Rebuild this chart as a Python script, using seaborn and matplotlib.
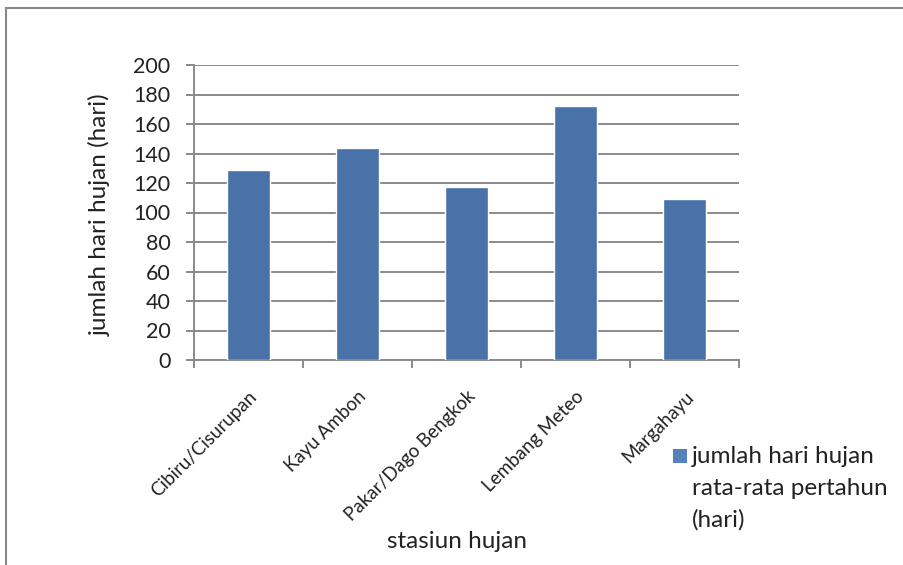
import matplotlib
matplotlib.use("Agg")
import matplotlib.pyplot as plt
from matplotlib.patches import Rectangle
from matplotlib.lines import Line2D
import seaborn as sns
import pandas as pd

# Rainfall stations and mean number of rainy days per year
stations = ["Cibiru/Cisurupan", "Kayu Ambon", "Pakar/Dago Bengkok",
            "Lembang Meteo", "Margahayu"]
rain_days = [129, 144, 117, 172, 109]
y_ticks = [0, 20, 40, 60, 80, 100, 120, 140, 160, 180, 200]

series_label = "jumlah hari hujan\nrata-rata pertahun\n(hari)"
x_title = "stasiun hujan"
y_title = "jumlah hari hujan (hari)"

sns.set_style("white")
plt.rcParams["font.family"] = ["Lato", "DejaVu Sans"]

df = pd.DataFrame({"stasiun": stations, "hari": rain_days})

W, H = 904, 565
fig = plt.figure(figsize=(W / 100, H / 100), dpi=100)
ax = fig.add_axes([194 / W, 1 - 360 / H, (739 - 194) / W, (360 - 65) / H])

bar_color = "#4872a8"
sns.barplot(data=df, x="stasiun", y="hari", color=bar_color, width=0.4,
            saturation=1, ax=ax, zorder=3)

ax.set_xlim(-0.5, len(stations) - 0.5)
ax.set_ylim(0, 200)
ax.set_yticks(y_ticks)
ax.set_yticklabels([str(v) for v in y_ticks], fontsize=15.5, color="#222222")
ax.yaxis.grid(True, color="#8a8a8a", linewidth=1.4, zorder=0)
ax.set_axisbelow(True)

for s in ["top", "right"]:
    ax.spines[s].set_visible(False)
for s in ["left", "bottom"]:
    ax.spines[s].set_color("#8a8a8a")
    ax.spines[s].set_linewidth(1.4)

ax.tick_params(axis="y", which="major", direction="out", length=6, width=1.4,
               color="#8a8a8a", pad=11, left=True)

# category boundary ticks on the x axis
ax.set_xticks([i - 0.5 for i in range(len(stations) + 1)], minor=True)
ax.tick_params(axis="x", which="minor", direction="out", length=6, width=1.4,
               color="#8a8a8a", bottom=True)
ax.tick_params(axis="x", which="major", length=0, pad=20)
ax.set_xticks(range(len(stations)))
ax.set_xticklabels(stations, rotation=45, ha="right", rotation_mode="anchor",
                   fontsize=13.5, color="#222222")

ax.set_xlabel("")
ax.set_ylabel("")
fig.text(100 / W, 1 - 215 / H, y_title, rotation=90, ha="center", va="center",
         fontsize=17.5, color="#222222")
fig.text(457 / W, 1 - 542 / H, x_title, ha="center", va="center",
         fontsize=17.5, color="#222222")

# legend: marker square beside the first line of text
fig.patches.append(Rectangle((673 / W, 1 - 463 / H), 14 / W, 14 / H,
                             transform=fig.transFigure, facecolor="#5582bb",
                             edgecolor="none", figure=fig))
fig.text(692 / W, 1 - 446 / H, series_label, ha="left", va="top",
         fontsize=17.5, color="#222222", linespacing=1.62)

# chart area frame (left and top edges)
frame_kw = dict(transform=fig.transFigure, color="#888888", linewidth=1.5)
fig.lines.append(Line2D([6 / W, 6 / W], [0, 1 - 8 / H], **frame_kw))
fig.lines.append(Line2D([6 / W, 1.0], [1 - 8 / H, 1 - 8 / H], **frame_kw))

fig.savefig("out.png", dpi=100, facecolor="white")
